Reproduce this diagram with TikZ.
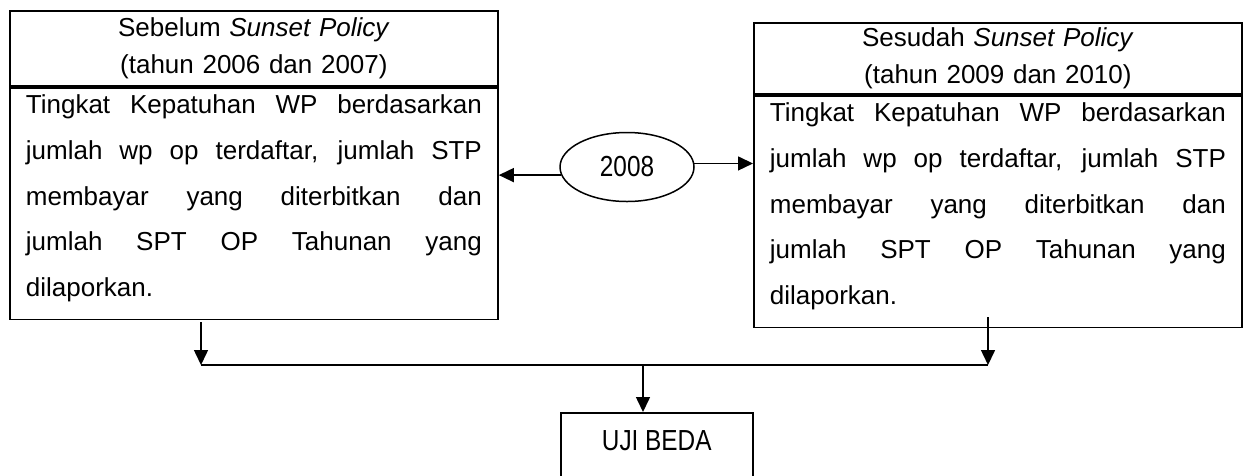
\documentclass[tikz,border=0pt]{standalone}
\usepackage{fontspec}
\setmainfont{Liberation Sans}
\newfontfamily\narrowfont[FakeStretch=0.84]{Liberation Sans}
\usetikzlibrary{arrows.meta,shapes.geometric}
\begin{document}
\begin{tikzpicture}[x=1pt,y=-1pt,
  ln/.style={line width=1.8pt},
  arr/.style={line width=1.5pt,-{Triangle[length=15pt,width=14pt]}},
  hdr/.style={draw,ln,minimum width=488pt,text width=456pt,inner xsep=16pt,inner ysep=0pt,align=center,font=\fontsize{26}{37}\selectfont},
  bodybox/.style={draw,ln,text width=456pt,inner xsep=16pt,inner ysep=0pt,align=justify,font=\fontsize{26}{45.7}\selectfont},
  ovalbox/.style={draw,ellipse,line width=1.5pt,minimum width=134pt,minimum height=69pt,inner sep=0pt,font=\narrowfont\fontsize{29}{30}\selectfont},
  testbox/.style={draw,line width=1.5pt,minimum width=192pt,inner xsep=0pt,inner ysep=0pt,text height=38pt,text depth=40pt,font=\narrowfont\fontsize{29}{30}\selectfont}
]
\useasboundingbox (0,0) rectangle (1246,475);
\hyphenpenalty=10000
% left box
\node[hdr,minimum height=75pt,anchor=north west] (Lh) at (9,10) {Sebelum \textit{Sunset Policy}\\(tahun 2006 dan 2007)};
\node[bodybox,anchor=north west] (L) at (Lh.south west) {\rule{0pt}{26pt}Tingkat Kepatuhan WP berdasarkan\linebreak jumlah wp op terdaftar, jumlah STP\linebreak membayar yang diterbitkan dan\linebreak jumlah SPT OP Tahunan yang\linebreak dilaporkan.\rule[-23pt]{0pt}{0pt}};
% right box
\node[hdr,minimum height=71pt,anchor=north west] (Rh) at (753,22) {Sesudah \textit{Sunset Policy}\\(tahun 2009 dan 2010)};
\node[bodybox,anchor=north west] (R) at (Rh.south west) {\rule{0pt}{26pt}Tingkat Kepatuhan WP berdasarkan\linebreak jumlah wp op terdaftar, jumlah STP\linebreak membayar yang diterbitkan dan\linebreak jumlah SPT OP Tahunan yang\linebreak dilaporkan.\rule[-23pt]{0pt}{0pt}};
% ellipse
\node[ovalbox] (E) at (627,167) {2008};
\draw[arr] (E.187) -- (E.187 -| L.east);
\draw[arr] (E.3) -- (E.3 -| R.west);
% bottom
\node[testbox,anchor=north west] (U) at (560,412) {UJI BEDA};
\coordinate (la) at (201,322);
\coordinate (ra) at (988,317);
\coordinate (J1) at (201,365);
\coordinate (J2) at (988,365);
\coordinate (J) at (643,365);
\draw[arr] (la) -- (J1);
\draw[arr] (ra) -- (J2);
\draw[line width=1.5pt] (J1) -- (J2);
\draw[arr] (J) -- (J |- U.north);
\end{tikzpicture}
\end{document}
